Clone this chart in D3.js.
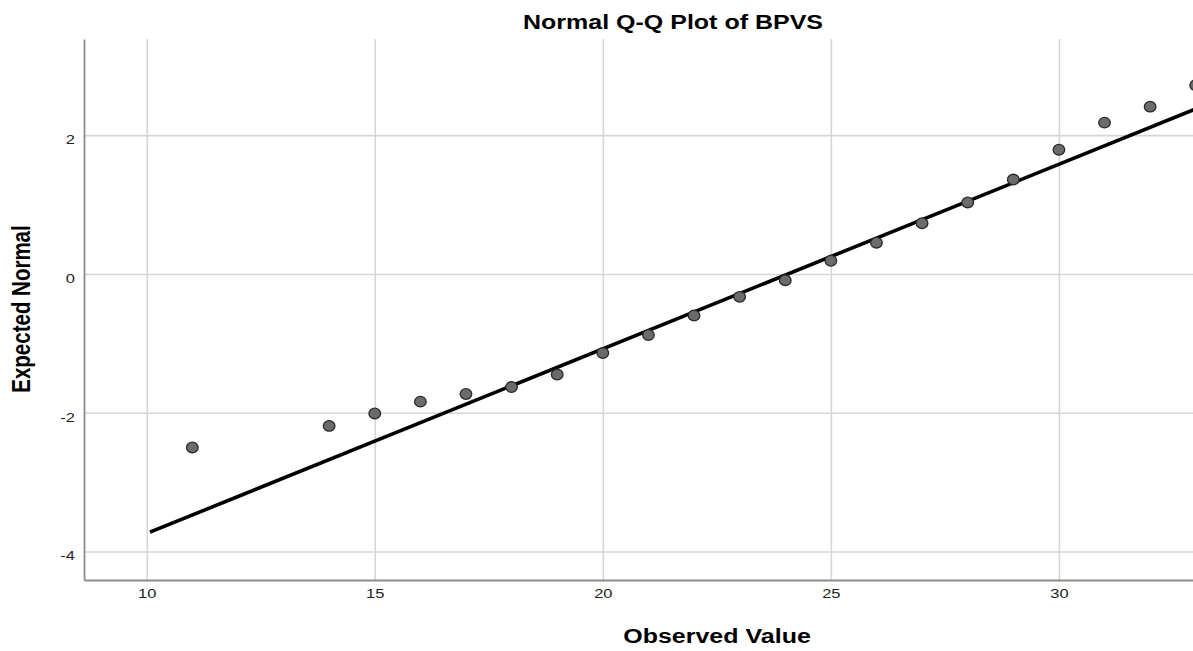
<!DOCTYPE html>
<html>
<head>
<meta charset="utf-8">
<script src="https://cdn.jsdelivr.net/npm/d3@7"></script>
<style>
  html, body { margin: 0; padding: 0; background: #fff; }
  svg { display: block; }
  text { font-family: "Liberation Sans", Arial, sans-serif; }
</style>
</head>
<body>
<svg id="chart" width="1193" height="651"></svg>
<script>
// Observed BPVS scores and their expected normal quantiles
const observed = [11, 14, 15, 16, 17, 18, 19, 20, 21, 22, 23, 24, 25, 26, 27, 28, 29, 30, 31, 32, 33];
const expected = [-2.50, -2.19, -2.01, -1.84, -1.73, -1.63, -1.45, -1.14, -0.88, -0.60, -0.33, -0.09,
                  0.19, 0.45, 0.73, 1.03, 1.36, 1.79, 2.18, 2.41, 2.72];

// Reference line: z = (x - mean) / sd
const fitMean = 24.06;
const fitSD = 3.76;
const fitRange = [10.07, 34];

const xTicks = [10, 15, 20, 25, 30];
const yTicks = [-4, -2, 0, 2];

const plotLeft = 84, plotRight = 1193, plotTop = 39, plotBottom = 580;
const stretch = 1.22; // wide lettering

const svg = d3.select("#chart");

const x = d3.scaleLinear().domain([8.625, 32.94]).range([plotLeft, plotRight]);
const y = d3.scaleLinear().domain([-4.41, 3.385]).range([plotBottom, plotTop]);

// plain hyphen for negative tick labels
const fmt = d => String(d);

svg.append("defs").append("clipPath").attr("id", "plot")
  .append("rect").attr("x", plotLeft).attr("y", plotTop)
  .attr("width", plotRight - plotLeft).attr("height", plotBottom - plotTop);

// grid lines
const gx = svg.append("g").attr("transform", `translate(0,${plotBottom})`)
  .call(d3.axisBottom(x).tickValues(xTicks).tickSize(-(plotBottom - plotTop)).tickFormat(""));
gx.select(".domain").remove();
gx.selectAll("line").attr("stroke", "#d6d6d6").attr("stroke-width", 1.6);

const gy = svg.append("g").attr("transform", `translate(${plotLeft},0)`)
  .call(d3.axisLeft(y).tickValues(yTicks).tickSize(-(plotRight - plotLeft)).tickFormat(""));
gy.select(".domain").remove();
gy.selectAll("line").attr("stroke", "#d6d6d6").attr("stroke-width", 1.6);

// axes with labels
const ax = svg.append("g").attr("transform", `translate(0,${plotBottom})`)
  .call(d3.axisBottom(x).tickValues(xTicks).tickSize(0).tickPadding(8).tickSizeOuter(0).tickFormat(fmt));
ax.select(".domain").attr("stroke", "#8c8c8c").attr("stroke-width", 1.8);
ax.selectAll("text")
  .attr("font-size", 13.5).attr("fill", "#222").attr("dy", "0.71em")
  .attr("transform", `scale(${stretch},1)`);

const ay = svg.append("g").attr("transform", `translate(${plotLeft},0)`)
  .call(d3.axisLeft(y).tickValues(yTicks).tickSize(0).tickPadding(9 / stretch).tickSizeOuter(0).tickFormat(fmt));
ay.select(".domain").attr("stroke", "#8c8c8c").attr("stroke-width", 1.8);
ay.selectAll("text")
  .attr("font-size", 13.5).attr("fill", "#222").attr("dy", "0.62em")
  .attr("transform", `scale(${stretch},1)`);

// reference line
const plot = svg.append("g").attr("clip-path", "url(#plot)");
plot.append("path")
  .datum(fitRange.map(v => [v, (v - fitMean) / fitSD]))
  .attr("d", d3.line().x(d => x(d[0])).y(d => y(d[1])))
  .attr("fill", "none").attr("stroke", "#000").attr("stroke-width", 3.6);

// points
plot.selectAll("ellipse.pt")
  .data(observed.map((v, i) => [v, expected[i]]))
  .join("ellipse")
  .attr("class", "pt")
  .attr("cx", d => x(d[0])).attr("cy", d => y(d[1]))
  .attr("rx", 5.8).attr("ry", 5.3)
  .attr("fill", "#6b6b6b").attr("stroke", "#2a2a2a").attr("stroke-width", 1.3);

// titles
svg.append("text")
  .attr("transform", `translate(673,29) scale(${stretch},1)`)
  .attr("text-anchor", "middle").attr("font-size", 20.5).attr("font-weight", "bold").attr("fill", "#000")
  .text("Normal Q-Q Plot of BPVS");

svg.append("text")
  .attr("transform", `translate(717,643) scale(${stretch},1)`)
  .attr("text-anchor", "middle").attr("font-size", 20.5).attr("font-weight", "bold").attr("fill", "#000")
  .text("Observed Value");

svg.append("text")
  .attr("transform", `translate(30,309) scale(${stretch},1) rotate(-90)`)
  .attr("text-anchor", "middle").attr("font-size", 20.5).attr("font-weight", "bold").attr("fill", "#000")
  .text("Expected Normal");
</script>
</body>
</html>
